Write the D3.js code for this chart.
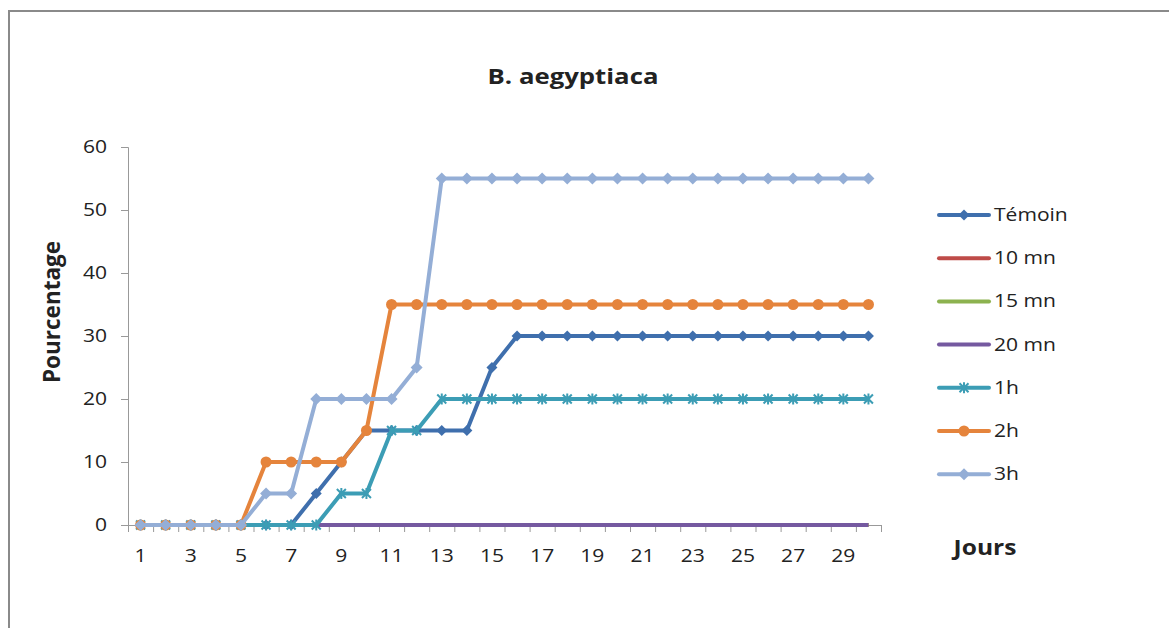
<!DOCTYPE html>
<html>
<head>
<meta charset="utf-8">
<script src="https://cdn.jsdelivr.net/npm/d3@7"></script>
<style>
  body { margin: 0; background: #fff; }
  text { font-family: "Open Sans", "Noto Sans", sans-serif; fill: #222; }
</style>
</head>
<body>
<svg id="chart" width="1169" height="628"></svg>
<script>
// data
var days = d3.range(1, 31) ;
var seriesNames = ['Témoin', '10 mn', '15 mn', '20 mn', '1h', '2h', '3h'] ;
var temoin = [0,0,0,0,0,0,0,5,10,15,15,15,15,15,25,30,30,30,30,30,30,30,30,30,30,30,30,30,30,30] ;
var mn10   = [0,0,0,0,0,0,0,0,0,0,0,0,0,0,0,0,0,0,0,0,0,0,0,0,0,0,0,0,0,0] ;
var mn15   = [0,0,0,0,0,0,0,0,0,0,0,0,0,0,0,0,0,0,0,0,0,0,0,0,0,0,0,0,0,0] ;
var mn20   = [0,0,0,0,0,0,0,0,0,0,0,0,0,0,0,0,0,0,0,0,0,0,0,0,0,0,0,0,0,0] ;
var h1     = [0,0,0,0,0,0,0,0,5,5,15,15,20,20,20,20,20,20,20,20,20,20,20,20,20,20,20,20,20,20] ;
var h2     = [0,0,0,0,0,10,10,10,10,15,35,35,35,35,35,35,35,35,35,35,35,35,35,35,35,35,35,35,35,35] ;
var h3     = [0,0,0,0,0,5,5,20,20,20,20,25,55,55,55,55,55,55,55,55,55,55,55,55,55,55,55,55,55,55] ;
var yTicks = [0, 10, 20, 30, 40, 50, 60] ;
var xLabels = days.filter(function(d) { return d % 2 == 1 ; }) ;

var values = [temoin, mn10, mn15, mn20, h1, h2, h3] ;
var colors = ['#3f6fad', '#be4b48', '#8cb24f', '#7559a0', '#3c9db5', '#e5843c', '#94aed6'] ;
var markers = ['diamondS', 'none', 'none', 'none', 'star', 'circle', 'diamond'] ;

var svg = d3.select('#chart') ;
var STRETCH = 1.17 ; // text in the original is a bit wider than the fonts here

// put the text's position into a transform so it can be widened in place
function stretch(sel) {
	sel.each(function() {
		var t = d3.select(this) ;
		var tx = +t.attr('x') || 0, ty = +t.attr('y') || 0 ;
		t.attr('x', 0).attr('y', 0).attr('transform', 'translate(' + tx + ',' + ty + ') scale(' + STRETCH + ',1)') ;
	}) ;
}

// outer frame
svg.append('rect').attr('x', 9).attr('y', 11).attr('width', 1180).attr('height', 640)
	.attr('fill', 'none').attr('stroke', '#8a8a8a').attr('stroke-width', 2) ;

var pLeft = 128, pRight = 881, pTop = 147, pBottom = 525 ;
var x = d3.scaleBand().domain(days).range([pLeft, pRight]).padding(0) ;
var xEdge = d3.scaleLinear().domain([0, 30]).range([pLeft, pRight]) ;
var y = d3.scaleLinear().domain([0, 60]).range([pBottom, pTop]) ;
function cx(d) { return x(d) + x.bandwidth() / 2 ; }

// title
svg.append('text').attr('x', 573).attr('y', 84).attr('text-anchor', 'middle')
	.style('font-size', '22px').style('font-weight', 'bold').text('B. aegyptiaca')
	.call(stretch) ;

// y axis
var yAxis = svg.append('g').attr('transform', 'translate(' + pLeft + ',0)')
	.call(d3.axisLeft(y).tickValues(yTicks).tickSize(7).tickPadding(14).tickSizeOuter(7)) ;
yAxis.select('.domain').attr('stroke', '#999') ;
yAxis.selectAll('.tick line').attr('stroke', '#999') ;
yAxis.selectAll('text').style('font-size', '18px').style('fill', '#222').call(stretch) ;

// x axis: ticks between categories, labels on odd days
var xTicks = svg.append('g').attr('transform', 'translate(0,' + pBottom + ')')
	.call(d3.axisBottom(xEdge).tickValues(d3.range(0, 31)).tickSize(7).tickSizeOuter(0).tickFormat('')) ;
xTicks.select('.domain').attr('stroke', '#999') ;
xTicks.selectAll('.tick line').attr('stroke', '#999') ;
var xLab = svg.append('g').attr('transform', 'translate(0,' + pBottom + ')')
	.call(d3.axisBottom(x).tickValues(xLabels).tickSize(0).tickPadding(24)) ;
xLab.select('.domain').remove() ;
xLab.selectAll('text').style('font-size', '18px').style('fill', '#222').call(stretch) ;

// axis titles
svg.append('text').attr('transform', 'translate(60,312) rotate(-90)').attr('text-anchor', 'middle')
	.style('font-size', '22.5px').style('font-weight', 'bold').text('Pourcentage') ;
svg.append('text').attr('x', 985).attr('y', 555).attr('text-anchor', 'middle')
	.style('font-size', '21px').style('font-weight', 'bold').text('Jours')
	.call(stretch) ;

function drawMarker(g, kind, px, py, color) {
	if (kind == 'circle') {
		g.append('circle').attr('cx', px).attr('cy', py).attr('r', 5.5).attr('fill', color) ;
	} else if (kind == 'diamond' || kind == 'diamondS') {
		var s = kind == 'diamond' ? 6 : 5.5 ;
		g.append('path').attr('d', 'M' + px + ' ' + (py - s) + ' L' + (px + s) + ' ' + py + ' L' + px + ' ' + (py + s) + ' L' + (px - s) + ' ' + py + ' Z')
			.attr('fill', color) ;
	} else if (kind == 'star') {
		var s = 4.5 ;
		var p = 'M' + (px - s) + ' ' + (py - s) + ' L' + (px + s) + ' ' + (py + s) +
			' M' + (px - s) + ' ' + (py + s) + ' L' + (px + s) + ' ' + (py - s) +
			' M' + px + ' ' + (py - s - 1) + ' L' + px + ' ' + (py + s + 1) ;
		g.append('path').attr('d', p).attr('stroke', color).attr('stroke-width', 2).attr('fill', 'none') ;
	}
}

var line = d3.line().x(function(d, i) { return cx(days[i]) ; }).y(function(d) { return y(d) ; }) ;

for (var s = 0; s < values.length; ++s) {
	var g = svg.append('g') ;
	g.append('path').attr('d', line(values[s])).attr('fill', 'none')
		.attr('stroke', colors[s]).attr('stroke-width', 4).attr('stroke-linejoin', 'round') ;
	for (var i = 0; i < days.length; ++i) drawMarker(g, markers[s], cx(days[i]), y(values[s][i]), colors[s]) ;
}

// legend
for (var s = 0; s < seriesNames.length; ++s) {
	var ly = 215 + s * 43.2 ;
	var lg = svg.append('g') ;
	lg.append('line').attr('x1', 939).attr('x2', 989).attr('y1', ly).attr('y2', ly)
		.attr('stroke', colors[s]).attr('stroke-width', 4).attr('stroke-linecap', 'round') ;
	drawMarker(lg, markers[s], 964, ly, colors[s]) ;
	lg.append('text').attr('x', 994).attr('y', ly + 6).style('font-size', '18px').text(seriesNames[s])
		.call(stretch) ;
}
</script>
</body>
</html>
